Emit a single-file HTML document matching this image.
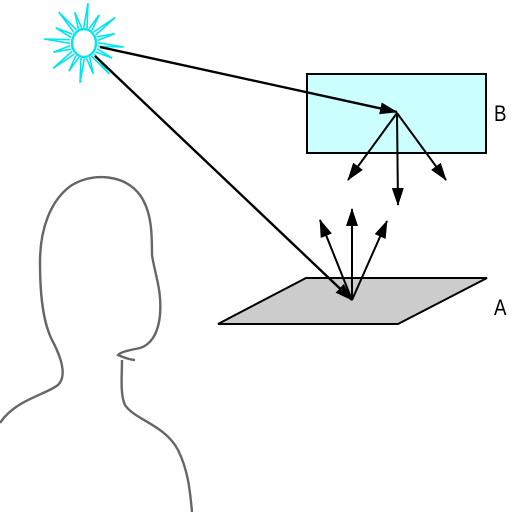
<!DOCTYPE html>
<html><head><meta charset="utf-8"><style>html,body{margin:0;background:#fff}svg{display:block}</style></head>
<body>
<svg width="512" height="512" viewBox="0 0 512 512">
<defs>
<marker id="ah2" markerWidth="18" markerHeight="12" refX="17" refY="6" orient="auto" markerUnits="userSpaceOnUse" viewBox="0 0 18 12"><path d="M0,0 L18,6 L0,12 Z" fill="#000"/></marker></defs>
<rect x="307" y="74" width="179" height="79" fill="#ccffff" stroke="#000" stroke-width="2"/>
<polygon points="218,324 398,324 487,278 306,278" fill="#cccccc" stroke="#000" stroke-width="2"/>
<g stroke="#00e5ee" stroke-width="1.6" fill="none" id="sun"></g>
<g stroke="#000" stroke-width="2.4" fill="none">
<line x1="100" y1="47" x2="397" y2="112" marker-end="url(#ah2)"/>
<line x1="95" y1="56" x2="352" y2="300" marker-end="url(#ah2)"/>
</g>
<g stroke="#000" stroke-width="2" fill="none">
<line x1="352" y1="300" x2="320" y2="220" marker-end="url(#ah2)"/>
<line x1="352" y1="300" x2="352" y2="209" marker-end="url(#ah2)"/>
<line x1="352" y1="300" x2="387" y2="221" marker-end="url(#ah2)"/>
</g>
<g stroke="#000" stroke-width="2" fill="none">
<line x1="397" y1="113" x2="348" y2="180" marker-end="url(#ah2)"/>
<line x1="397" y1="113" x2="398" y2="205" marker-end="url(#ah2)"/>
<line x1="397" y1="113" x2="446" y2="180" marker-end="url(#ah2)"/>
</g>
<path fill="none" stroke="#666" stroke-width="2.4"
d="M0,423 C15,400 45,395 58,385 C68,375 60,355 52,340 C42,320 40,290 40,262 C40,230 50,200 72,185 C95,172 125,175 140,195 C152,212 152,235 152,255 C155,275 162,290 160,315 C158,335 150,345 140,348 C130,350 120,352 118,355 C125,358 132,360 135,360 M122,360 C122,375 120,395 125,405 C135,420 165,425 178,450 C188,470 190,490 192,512"/>
<text x="494" y="121" font-family="Liberation Sans, sans-serif" font-size="22" transform="translate(494 0) scale(0.85 1) translate(-494 0)">B</text>
<text x="494" y="315" font-family="Liberation Sans, sans-serif" font-size="22" transform="translate(494 0) scale(0.85 1) translate(-494 0)">A</text>
</svg>
<script>
var g=document.getElementById('sun'),ns='http://www.w3.org/2000/svg',cx=84,cy=43;
for(var i=0;i<16;i++){var a=i*Math.PI/8+0.1;
var p=document.createElementNS(ns,'path');


var r1=14,r2=(i%2?32:40),w=0.12;
var x1=cx+Math.cos(a-w)*r1,y1=cy+Math.sin(a-w)*r1*1.1,x2=cx+Math.cos(a)*r2,y2=cy+Math.sin(a)*r2,x3=cx+Math.cos(a+w)*r1,y3=cy+Math.sin(a+w)*r1*1.1;
p.setAttribute('d','M'+x1+','+y1+' L'+x2+','+y2+' L'+x3+','+y3);g.appendChild(p);}
var e=document.createElementNS(ns,'ellipse');


e.setAttribute('cx',cx);e.setAttribute('cy',cy);e.setAttribute('rx',12);e.setAttribute('ry',14);e.setAttribute('fill','#fff');e.setAttribute('stroke-width','2.4');g.appendChild(e);
</script>
</body></html>
